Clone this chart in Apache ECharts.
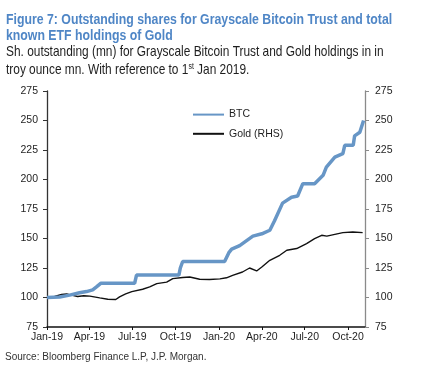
<!DOCTYPE html>
<html>
<head>
<meta charset="utf-8">
<script src="https://cdn.jsdelivr.net/npm/echarts@6.0.0/dist/echarts.min.js"></script>
<style>
  html, body { margin: 0; padding: 0; background: #fff; }
  #chart { width: 421px; height: 377px; }
</style>
</head>
<body>
<div id="chart"></div>
<script>
// Grayscale Bitcoin Trust shares outstanding (mn)
const btcDates = [
  '2019-01-01', '2019-01-28', '2019-02-18', '2019-03-11', '2019-03-26', '2019-04-08',
  '2019-04-16', '2019-04-25', '2019-07-06', '2019-07-10', '2019-10-08', '2019-10-11',
  '2019-10-16', '2020-01-13', '2020-01-22', '2020-01-28', '2020-02-14', '2020-03-13',
  '2020-04-01', '2020-04-18', '2020-04-28', '2020-05-15', '2020-06-03', '2020-06-16',
  '2020-06-27', '2020-07-22', '2020-08-09', '2020-08-16', '2020-09-03', '2020-09-20',
  '2020-09-24', '2020-10-12', '2020-10-15', '2020-10-26', '2020-11-03'
];
const btcValues = [
  100, 100.5, 102, 104, 105, 106.5,
  109, 112, 112, 119, 119, 125,
  130.5, 130.5, 138, 141, 144, 152,
  154, 157, 165, 180, 185, 186,
  196.5, 196.5, 203.5, 210.5, 219, 222,
  229, 229, 237, 240, 250
];

// Known gold ETF holdings (troy oz mn, RHS)
const goldDates = [
  '2019-01-01', '2019-01-17', '2019-02-01', '2019-02-12', '2019-02-22', '2019-03-07',
  '2019-03-20', '2019-04-02', '2019-04-23', '2019-05-10', '2019-05-27', '2019-06-04',
  '2019-06-17', '2019-06-30', '2019-07-23', '2019-08-07', '2019-08-22', '2019-09-12',
  '2019-09-25', '2019-10-16', '2019-10-31', '2019-11-21', '2019-12-12', '2020-01-03',
  '2020-01-17', '2020-01-30', '2020-02-20', '2020-03-06', '2020-03-21', '2020-04-01',
  '2020-04-18', '2020-05-09', '2020-05-24', '2020-06-14', '2020-07-05', '2020-07-22',
  '2020-08-06', '2020-08-17', '2020-09-20', '2020-10-11', '2020-11-01'
];
const goldValues = [
  100, 101, 102.5, 103, 102, 100.8,
  101.5, 101.2, 99.7, 98.5, 98.3, 100.5,
  103, 105, 107, 109, 111.8, 113,
  116, 117, 117.4, 115.5, 115.3, 115.8,
  116.7, 118.8, 121.6, 125, 122.5, 125.8,
  131.5, 135.8, 140, 141.5, 145.7, 149.9,
  152.7, 152, 155, 155.5, 155
];

const axisMin = '2019-01-01';
const axisMax = '2020-11-06';
const monthNames = ['Jan', 'Feb', 'Mar', 'Apr', 'May', 'Jun', 'Jul', 'Aug', 'Sep', 'Oct', 'Nov', 'Dec'];

function toUTC(s) {
  const p = s.split('-').map(Number);
  return Date.UTC(p[0], p[1] - 1, p[2]);
}
function pairs(dates, values) {
  return dates.map((d, i) => [toUTC(d), values[i]]);
}

const font = '"Liberation Sans", Arial, sans-serif';
const textColor = '#1e1e1e';
const narrow = 0.82; // original uses a narrow face, squeeze the text instead

const chart = echarts.init(document.getElementById('chart'));

chart.setOption({
  useUTC: true,
  animation: false,
  backgroundColor: '#fff',
  textStyle: { fontFamily: font },
  graphic: [
    {
      type: 'text', x: 6, y: 19.5, scaleX: narrow,
      style: {
        text: 'Figure 7: Outstanding shares for Grayscale Bitcoin Trust and total',
        font: 'bold 15px ' + font, fill: '#4f86c6', verticalAlign: 'middle'
      }
    },
    {
      type: 'text', x: 6, y: 36, scaleX: narrow,
      style: {
        text: 'known ETF holdings of Gold',
        font: 'bold 15px ' + font, fill: '#4f86c6', verticalAlign: 'middle'
      }
    },
    {
      type: 'text', x: 6, y: 52, scaleX: narrow,
      style: {
        text: 'Sh. outstanding (mn) for Grayscale Bitcoin Trust and Gold holdings in in',
        font: '14.5px ' + font, fill: '#1e1e1e', verticalAlign: 'middle'
      }
    },
    {
      type: 'text', x: 6, y: 70, scaleX: narrow,
      style: {
        text: '{a|troy ounce mn. With reference to 1}{s|st}{a| Jan 2019.}',
        verticalAlign: 'middle',
        rich: {
          a: { fontFamily: font, fontSize: 14.5, fill: '#1e1e1e', color: '#1e1e1e', lineHeight: 16 },
          s: { fontFamily: font, fontSize: 8.5, fill: '#1e1e1e', color: '#1e1e1e', lineHeight: 16, verticalAlign: 'top' }
        }
      }
    },
    {
      type: 'text', x: 5, y: 357,
      style: {
        text: 'Source: Bloomberg Finance L.P, J.P. Morgan.',
        font: '10px ' + font, fill: '#333', verticalAlign: 'middle'
      }
    }
  ],
  legend: {
    orient: 'vertical',
    left: 192,
    top: 109,
    padding: 0,
    itemWidth: 31,
    itemHeight: 14,
    itemGap: 8,
    textStyle: { fontFamily: font, fontSize: 10.5, color: textColor },
    data: [
      { name: 'BTC', itemStyle: { opacity: 0 } },
      { name: 'Gold (RHS)', itemStyle: { opacity: 0 } }
    ]
  },
  grid: {
    left: 47,
    right: 56,
    top: 91,
    bottom: 50,
    outerBoundsMode: 'none'
  },
  xAxis: {
    type: 'time',
    min: toUTC(axisMin),
    max: toUTC(axisMax),
    minInterval: 100 * 86400000,
    maxInterval: 100 * 86400000,
    splitLine: { show: false },
    axisLine: { lineStyle: { color: '#111', width: 1.5 } },
    axisTick: { show: true, length: 3, lineStyle: { color: '#111' } },
    axisLabel: {
      margin: 5,
      fontFamily: font,
      fontSize: 10.5,
      color: textColor,
      showMinLabel: true,
      showMaxLabel: false,
      formatter: (v) => {
        const d = new Date(v);
        return monthNames[d.getUTCMonth()] + '-' + String(d.getUTCFullYear()).slice(2);
      }
    }
  },
  yAxis: [
    {
      type: 'value',
      min: 75,
      max: 275,
      interval: 25,
      splitLine: { show: false },
      axisLine: { show: true, lineStyle: { color: '#333', width: 1.3 } },
      axisTick: { show: true, length: 4, lineStyle: { color: '#333' } },
      axisLabel: { margin: 9, fontFamily: font, fontSize: 10.5, color: textColor }
    },
    {
      type: 'value',
      min: 75,
      max: 275,
      interval: 25,
      position: 'right',
      splitLine: { show: false },
      axisLine: { show: true, lineStyle: { color: '#8a8a8a', width: 1.3 } },
      axisTick: { show: true, length: 4, lineStyle: { color: '#8a8a8a' } },
      axisLabel: { margin: 10, fontFamily: font, fontSize: 10.5, color: textColor }
    }
  ],
  series: [
    {
      name: 'BTC',
      type: 'line',
      yAxisIndex: 0,
      symbol: 'none',
      z: 3,
      lineStyle: { color: '#6796c6', width: 3.5 },
      itemStyle: { color: '#6796c6' },
      data: pairs(btcDates, btcValues)
    },
    {
      name: 'Gold (RHS)',
      type: 'line',
      yAxisIndex: 1,
      symbol: 'none',
      z: 2,
      lineStyle: { color: '#111', width: 1.4 },
      itemStyle: { color: '#111' },
      data: pairs(goldDates, goldValues)
    }
  ]
});
</script>
</body>
</html>
